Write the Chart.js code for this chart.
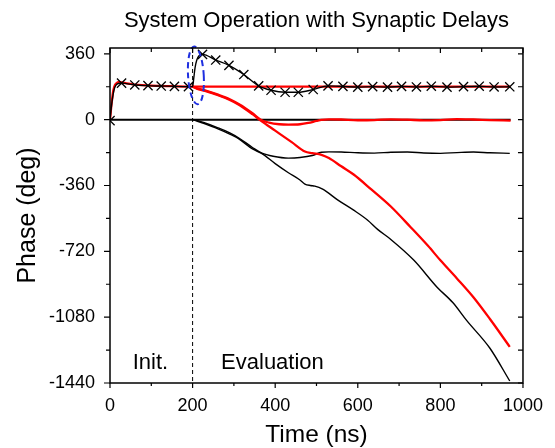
<!DOCTYPE html>
<html>
<head>
<meta charset="utf-8">
<script src="https://cdn.jsdelivr.net/npm/chart.js@4"></script>
<style>
html, body { margin: 0; padding: 0; background: #fff; }
#wrap { width: 555px; height: 448px; }
</style>
</head>
<body>
<div id="wrap"><canvas id="phaseChart" width="555" height="448"></canvas></div>
<script>
// time in ns, phase in deg
const xTicks = [0, 200, 400, 600, 800, 1000];
const yTicks = [-1440, -1080, -720, -360, 0, 360];

// red trace that settles at 180 (init phase shared by all red traces)
const redFlatT = [0, 4, 8, 12, 16, 20, 25, 30, 40, 60, 100, 150, 200, 300, 500, 700, 970];
const redFlatV = [0, 90, 160, 190, 200, 205, 205, 203, 198, 192, 186, 183, 181, 181, 181, 181, 181];

// red trace that dips and comes back to 0
const redDipT = [200, 210, 230, 260, 290, 320, 345, 365, 385, 410, 432, 460, 480, 500, 512, 530, 560, 600, 640, 680, 720, 760, 800, 840, 880, 920, 970];
const redDipV = [181, 172, 160, 138, 112, 75, 35, 0, -16, -25, -27, -25, -18, -7, -1, 2, 1, -3, -2, 2, 0, -4, -2, 3, 1, -2, -5];

// red trace that keeps slipping
const redSlipT = [200, 210, 230, 260, 290, 312, 345, 365, 400, 440, 472, 490, 512, 530, 560, 590, 632, 680, 728, 770, 800, 840, 880, 920, 968];
const redSlipV = [181, 170, 157, 135, 108, 82, 30, -5, -60, -123, -174, -183, -192, -210, -255, -300, -380, -475, -588, -690, -769, -868, -971, -1090, -1242];

// black reference at 0
const blackZeroT = [0, 970];
const blackZeroV = [0, 0];

// black trace that dips to -180
const blackDipT = [200, 210, 230, 260, 290, 312, 345, 368, 395, 432, 460, 490, 512, 530, 560, 600, 640, 680, 720, 760, 800, 840, 880, 920, 968];
const blackDipV = [0, -4, -18, -43, -72, -100, -152, -183, -200, -210, -207, -196, -178, -176, -177, -181, -183, -178, -177, -182, -184, -180, -177, -181, -184];

// black trace that keeps slipping
const blackSlipT = [200, 210, 230, 260, 290, 312, 345, 368, 400, 432, 460, 472, 485, 496, 515, 552, 590, 624, 648, 680, 736, 792, 830, 864, 920, 968];
const blackSlipV = [0, -7, -23, -49, -79, -105, -160, -186, -240, -290, -330, -352, -360, -363, -380, -440, -495, -550, -600, -655, -769, -916, -1000, -1099, -1250, -1429];

// black trace with x markers (line and marker positions)
const markLineT = [0, 5, 10, 15, 20, 28, 60, 92, 124, 156, 190, 200, 203, 206, 210, 215, 224, 256, 288, 324, 360, 390, 424, 456, 492, 528, 564, 600, 636, 672, 706, 742, 778, 816, 856, 894, 930, 968];
const markLineV = [0, 100, 165, 190, 198, 200, 190, 186, 184, 182, 181, 181, 230, 285, 325, 348, 357, 326, 297, 247, 185, 161, 150, 150, 165, 185, 182, 178, 181, 178, 182, 179, 183, 178, 181, 183, 179, 180];
const markT = [0, 28, 60, 92, 124, 156, 190, 224, 256, 288, 324, 360, 390, 424, 456, 492, 528, 564, 600, 636, 672, 706, 742, 778, 816, 856, 894, 930, 968];
const markV = [-5, 200, 190, 186, 184, 182, 181, 357, 326, 297, 247, 185, 161, 150, 150, 165, 185, 182, 178, 181, 178, 182, 179, 183, 178, 181, 183, 179, 180];

// switch from init to evaluation, and the highlighted spike (centre t, centre phase, radius t, radius phase)
const switchTime = 200;
const spikeEllipse = [208, 242, 19, 158];

const toPoints = (t, v) => t.map((x, i) => ({ x: x, y: v[i] }));

const FONT = "'Liberation Sans', Arial, sans-serif";
const RED = "#ff0000";

function lineSet(t, v, color, width) {
    return {
        data: toPoints(t, v),
        borderColor: color,
        borderWidth: width,
        pointRadius: 0,
        fill: false,
        cubicInterpolationMode: "monotone"
    };
}

const markerSet = {
    data: toPoints(markT, markV),
    showLine: false,
    pointStyle: "crossRot",
    pointRadius: 6.5,
    borderColor: "#000",
    backgroundColor: "#000",
    pointBorderWidth: 1.3
};

// major ticks plus one minor tick between each pair
function withMinor(major) {
    const out = [];
    major.forEach((v, i) => {
        out.push({ value: v });
        if (i < major.length - 1) out.push({ value: (v + major[i + 1]) / 2 });
    });
    return out;
}

// frame with inward ticks on top/right, outward on bottom/left
const framePlugin = {
    id: "frame",
    beforeDatasetsDraw(chart) {
        const { ctx, chartArea: a, scales: { x } } = chart;
        const px = x.getPixelForValue(switchTime);
        ctx.save();
        ctx.strokeStyle = "#000";
        ctx.lineWidth = 1;
        ctx.setLineDash([4, 3]);
        ctx.beginPath();
        ctx.moveTo(px, a.top);
        ctx.lineTo(px, a.bottom);
        ctx.stroke();
        ctx.restore();
    },
    afterDatasetsDraw(chart) {
        const { ctx, chartArea: a, scales: { x, y } } = chart;
        ctx.save();

        // blue dashed ellipse round the spike
        const cx = x.getPixelForValue(spikeEllipse[0]);
        const cy = y.getPixelForValue(spikeEllipse[1]);
        const rx = x.getPixelForValue(spikeEllipse[0] + spikeEllipse[2]) - cx;
        const ry = cy - y.getPixelForValue(spikeEllipse[1] + spikeEllipse[3]);
        ctx.strokeStyle = "#1f2fe0";
        ctx.lineWidth = 2;
        ctx.setLineDash([6, 4]);
        ctx.beginPath();
        ctx.ellipse(cx, cy, rx, ry, -0.06, 0, Math.PI * 2);
        ctx.stroke();
        ctx.setLineDash([]);

        // frame
        ctx.strokeStyle = "#000";
        ctx.lineWidth = 1.5;
        ctx.strokeRect(a.left, a.top, a.right - a.left, a.bottom - a.top);

        ctx.lineWidth = 1.2;
        ctx.beginPath();
        x.ticks.forEach(t => {
            const p = x.getPixelForValue(t.value);
            const major = xTicks.includes(t.value);
            ctx.moveTo(p, a.bottom);
            ctx.lineTo(p, a.bottom + (major ? 5 : 3));
            ctx.moveTo(p, a.top);
            ctx.lineTo(p, a.top + (major ? 5 : 4));
        });
        y.ticks.forEach(t => {
            const p = y.getPixelForValue(t.value);
            const major = yTicks.includes(t.value);
            ctx.moveTo(a.left, p);
            ctx.lineTo(a.left - (major ? 6 : 4), p);
            ctx.moveTo(a.right, p);
            ctx.lineTo(a.right - 5, p);
        });
        ctx.stroke();

        // phase labels
        ctx.fillStyle = "#000";
        ctx.font = "22px " + FONT;
        ctx.textAlign = "left";
        ctx.textBaseline = "alphabetic";
        const ly = y.getPixelForValue(-1365);
        ctx.fillText("Init.", x.getPixelForValue(55), ly);
        ctx.fillText("Evaluation", x.getPixelForValue(269), ly);
        ctx.restore();
    }
};

new Chart(document.getElementById("phaseChart"), {
    type: "line",
    data: {
        datasets: [
            markerSet,
            lineSet(markLineT, markLineV, "#000", 1.4),
            lineSet(redFlatT, redFlatV, RED, 2.3),
            lineSet(redDipT, redDipV, RED, 2.3),
            lineSet(redSlipT, redSlipV, RED, 2.3),
            lineSet(blackDipT, blackDipV, "#000", 1.4),
            lineSet(blackSlipT, blackSlipV, "#000", 1.4),
            lineSet(blackZeroT, blackZeroV, "#000", 2)
        ]
    },
    options: {
        responsive: false,
        animation: false,
        layout: { padding: { left: 0, right: 29, top: 0, bottom: 0 } },
        plugins: {
            legend: { display: false },
            tooltip: { enabled: false },
            title: {
                display: true,
                fullSize: false,
                text: "System Operation with Synaptic Delays",
                color: "#000",
                font: { family: FONT, size: 22, weight: "normal" },
                padding: { top: 8, bottom: 13.6 }
            }
        },
        scales: {
            x: {
                type: "linear",
                min: xTicks[0],
                max: xTicks[xTicks.length - 1],
                grid: { display: false, drawTicks: false },
                border: { display: false },
                afterBuildTicks: s => { s.ticks = withMinor(xTicks); },
                ticks: {
                    padding: 12,
                    maxRotation: 0,
                    autoSkip: false,
                    color: "#000",
                    font: { family: FONT, size: 18 },
                    callback: v => (xTicks.includes(v) ? v : "")
                },
                title: {
                    display: true,
                    text: "Time (ns)",
                    color: "#000",
                    font: { family: FONT, size: 24.5, lineHeight: 1 },
                    padding: { top: 0, bottom: 1 }
                },
                afterFit: s => { s.height = 65; }
            },
            y: {
                type: "linear",
                min: yTicks[0],
                max: 392,
                grid: { display: false, drawTicks: false },
                border: { display: false },
                afterBuildTicks: s => { s.ticks = withMinor(yTicks); },
                ticks: {
                    autoSkip: false,
                    padding: 15,
                    color: "#000",
                    font: { family: FONT, size: 18 },
                    callback: v => (yTicks.includes(v) ? v : "")
                },
                title: {
                    display: true,
                    text: "Phase (deg)",
                    color: "#000",
                    font: { family: FONT, size: 25, lineHeight: 1 },
                    padding: { top: 15.5, bottom: 0 }
                },
                afterFit: s => { s.width = 110; }
            }
        }
    },
    plugins: [framePlugin]
});
</script>
</body>
</html>
